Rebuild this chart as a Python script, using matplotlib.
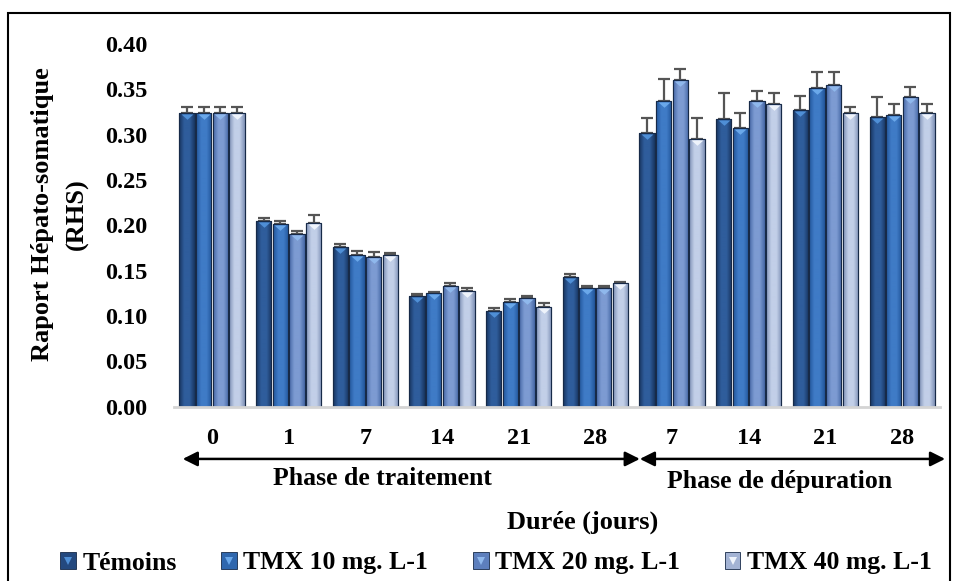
import numpy as np
import matplotlib
matplotlib.use("Agg")
import matplotlib.pyplot as plt
from matplotlib.colors import LinearSegmentedColormap
from matplotlib.patches import Patch, Rectangle
from matplotlib.lines import Line2D
from matplotlib.legend_handler import HandlerTuple
import matplotlib.transforms as mtransforms

# ---------------- data ----------------
days = ["0", "1", "7", "14", "21", "28", "7", "14", "21", "28"]
series_names = ["Témoins", "TMX 10 mg. L-1", "TMX 20 mg. L-1", "TMX 40 mg. L-1"]
temoins = [0.324, 0.205, 0.176, 0.122, 0.106, 0.143, 0.302, 0.317, 0.327, 0.320]
err_temoins = [0.007, 0.003, 0.003, 0.002, 0.003, 0.003, 0.016, 0.029, 0.016, 0.021]
tmx10 = [0.324, 0.202, 0.167, 0.125, 0.116, 0.131, 0.337, 0.307, 0.352, 0.322]
err_tmx10 = [0.007, 0.003, 0.005, 0.001, 0.003, 0.002, 0.024, 0.017, 0.017, 0.012]
tmx20 = [0.324, 0.191, 0.165, 0.133, 0.120, 0.131, 0.360, 0.337, 0.355, 0.342]
err_tmx20 = [0.007, 0.003, 0.006, 0.003, 0.002, 0.002, 0.012, 0.011, 0.014, 0.011]
tmx40 = [0.324, 0.203, 0.167, 0.128, 0.110, 0.136, 0.295, 0.334, 0.324, 0.324]
err_tmx40 = [0.007, 0.008, 0.003, 0.003, 0.004, 0.002, 0.023, 0.012, 0.007, 0.010]
yticks = [0.00, 0.05, 0.10, 0.15, 0.20, 0.25, 0.30, 0.35, 0.40]
phase_labels = ["Phase de traitement", "Phase de dépuration"]

values = [temoins, tmx10, tmx20, tmx40]
errors = [err_temoins, err_tmx10, err_tmx20, err_tmx40]

# styles
grad_cols = [("#183560", "#2f5d9c"),
             ("#22569c", "#3f7bc6"),
             ("#4567a6", "#7d9bd2"),
             ("#7e90b6", "#c2cfe8")]
base_cols = ["#24497f", "#2f67ae", "#5d7fbd", "#a3b3d4"]
tri_cols = ["#4f8fd6", "#6aa8ea", "#8fb8ec", "#eef3fb"]
tri_marker = [(-1, 0), (1, 0), (0, -0.9), (-1, 0)]

plt.rcParams['font.family'] = ['Liberation Serif', 'DejaVu Serif']
plt.rcParams['font.weight'] = 'bold'

fig = plt.figure(figsize=(9.55, 5.81), dpi=100)
ax = fig.add_axes([0.1817, 0.300, 0.8031, 0.6243])

x = np.arange(len(days))
step = 0.217
width = 0.2
offsets = (np.arange(4) - 1.5) * step

for i in range(4):
    bars = ax.bar(x + offsets[i], values[i], width=width, color=base_cols[i],
                  edgecolor="#172a48", linewidth=0.8, zorder=2)
    cmap = LinearSegmentedColormap.from_list("g%d" % i,
            [grad_cols[i][0], grad_cols[i][1], grad_cols[i][1], grad_cols[i][0]])
    grad = np.linspace(0, 1, 64).reshape(1, -1)
    for b in bars:
        x0, w, h = b.get_x(), b.get_width(), b.get_height()
        im = ax.imshow(grad, extent=[x0, x0 + w, 0, h], aspect='auto',
                       cmap=cmap, zorder=2.1, interpolation='bilinear')
        im.set_clip_path(b)
        r = Rectangle((x0, 0), w, h, fill=False, edgecolor="#172a48",
                      linewidth=0.8, zorder=2.2)
        ax.add_patch(r)
    tri_tr = mtransforms.offset_copy(ax.transData, fig=fig, x=0, y=-0.8, units='points')
    ax.plot(x + offsets[i], values[i], ls='none', marker=tri_marker, ms=8.5,
            color=tri_cols[i], markeredgewidth=0, transform=tri_tr, zorder=2.3)
    ax.errorbar(x + offsets[i], values[i],
                yerr=[np.zeros(len(days)), errors[i]], fmt='none',
                ecolor="#555555", elinewidth=1.6, capsize=4.5, capthick=1.6, zorder=1.5)

ax.set_xlim(-0.5, 9.5)
ax.set_ylim(0, 0.40)
ax.set_yticks(yticks)
ax.set_yticklabels(["%.2f" % v for v in yticks])
ax.set_xticks(x)
ax.set_xticklabels(days)
ax.tick_params(axis='both', length=0, labelsize=17.5)
ax.tick_params(axis='y', pad=19)
ax.tick_params(axis='x', pad=15)
for s in ["top", "right", "left"]:
    ax.spines[s].set_visible(False)
ax.spines["bottom"].set_color("#d4d4d4")
ax.spines["bottom"].set_linewidth(2)

# phase arrows
tr = mtransforms.blended_transform_factory(ax.transData, ax.transAxes)
arrow_y = -0.144
ax.annotate("", xy=(-0.38, arrow_y), xytext=(5.58, arrow_y), xycoords=tr, textcoords=tr,
            annotation_clip=False,
            arrowprops=dict(arrowstyle="<|-|>", color="black", lw=1.8,
                            mutation_scale=22, shrinkA=0, shrinkB=0))
ax.annotate("", xy=(5.58, arrow_y), xytext=(9.56, arrow_y), xycoords=tr, textcoords=tr,
            annotation_clip=False,
            arrowprops=dict(arrowstyle="<|-|>", color="black", lw=1.8,
                            mutation_scale=22, shrinkA=0, shrinkB=0))
ax.text(2.22, -0.199, phase_labels[0], transform=tr, ha='center', va='center',
        fontsize=18.5, fontweight='bold')
ax.text(7.4, -0.207, phase_labels[1], transform=tr, ha='center', va='center',
        fontsize=18.5, fontweight='bold')

fig.text(583 / 955, 1 - 522 / 581, "Durée (jours)", ha='center', va='center',
         fontsize=19, fontweight='bold')
fig.text(60 / 955, 1 - 214 / 581, "Raport Hépato-somatique\n(RHS)", rotation=90,
         ha='center', va='center', multialignment='center', fontsize=19,
         fontweight='bold', linespacing=1.65)

handles = []
for i in range(4):
    handles.append((Patch(facecolor=base_cols[i], edgecolor="#172a48", linewidth=0.6),
                    Line2D([], [], ls='none', marker='v', ms=5.5, color=tri_cols[i],
                           markeredgewidth=0)))
leg = fig.legend(handles, series_names, loc='center', bbox_to_anchor=(496 / 955, 1 - 563 / 581),
                 ncol=4, frameon=False, fontsize=18.5, handlelength=0.6, handleheight=0.6,
                 handletextpad=0.25, columnspacing=1.75,
                 handler_map={tuple: HandlerTuple(ndivide=1, pad=0)})

fig.patches.append(Rectangle((8 / 955, -0.02), (950 - 8) / 955, 1 - 13 / 581 + 0.02,
                             transform=fig.transFigure, fill=False, edgecolor='black',
                             linewidth=1.5))

fig.savefig("out.png", dpi=100)
